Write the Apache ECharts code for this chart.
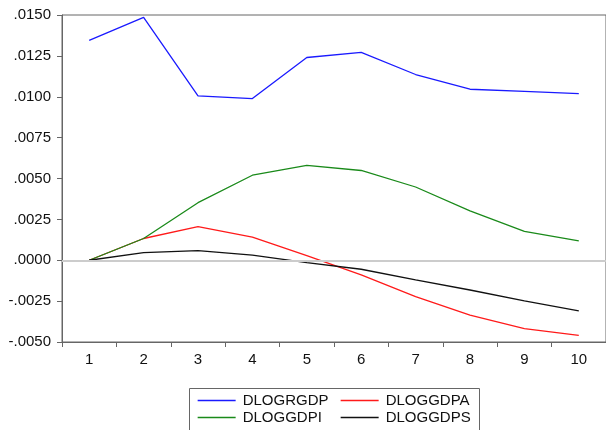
<!DOCTYPE html>
<html lang="en">
<head>
    <meta charset="UTF-8">
    <title>DLOG impulse responses</title>
    <script type="text/javascript" src="https://cdn.jsdelivr.net/npm/echarts@6/dist/echarts.min.js"></script>
</head>
<body style="margin:0;background:#fff;">
<div id="main" style="width: 606px;height:430px;"></div>
<script type="text/javascript">
    // periods
    var periods = ['1', '2', '3', '4', '5', '6', '7', '8', '9', '10'];
    // series values
    var dlogrgdp = [0.01345, 0.01486, 0.01005, 0.00989, 0.01240, 0.01272, 0.01136, 0.01046, 0.01033, 0.01019];
    var dloggdpa = [0.0000, 0.00133, 0.00206, 0.00142, 0.00028, -0.00090, -0.00222, -0.00336, -0.00418, -0.00459];
    var dloggdpi = [0.0000, 0.00133, 0.00352, 0.00520, 0.00580, 0.00549, 0.00448, 0.00302, 0.00177, 0.00118];
    var dloggdps = [0.0000, 0.00047, 0.00059, 0.00031, -0.00014, -0.00055, -0.00120, -0.00182, -0.00249, -0.00310];

    var fontFamily = 'Liberation Sans, Arial, sans-serif';
    var myChart = echarts.init(document.getElementById('main'));

    function lineSeries(name, data, color) {
        return {
            name: name,
            type: 'line',
            data: data,
            symbol: 'none',
            color: color,
            lineStyle: {color: color, width: 1.3},
            itemStyle: {color: color},
            z: 3
        };
    }

    var series = [
        lineSeries('DLOGRGDP', dlogrgdp, '#1a1aff'),
        lineSeries('DLOGGDPA', dloggdpa, '#ff1a1a'),
        lineSeries('DLOGGDPI', dloggdpi, '#1a8a1a'),
        lineSeries('DLOGGDPS', dloggdps, '#111111')
    ];
    // zero line
    series[0].markLine = {
        silent: true,
        symbol: 'none',
        label: {show: false},
        lineStyle: {color: '#cccccc', width: 2, type: 'solid'},
        data: [{yAxis: 0}]
    };

    var legendCommon = {
        orient: 'vertical',
        top: 393,
        padding: 0,
        itemWidth: 38,
        itemHeight: 17,
        itemGap: 2,
        itemStyle: {opacity: 0},
        lineStyle: {width: 1.3},
        textStyle: {fontFamily: fontFamily, fontSize: 15, color: '#111', padding: [0, 0, 0, 2]},
        selectedMode: false
    };

    var option = {
        animation: false,
        backgroundColor: '#ffffff',
        grid: {
            left: 62, right: -4, top: 15, bottom: 88,
            show: true, borderColor: '#666666', borderWidth: 1
        },
        legend: [
            Object.assign({}, legendCommon, {left: 197, data: ['DLOGRGDP', 'DLOGGDPI']}),
            Object.assign({}, legendCommon, {left: 340, data: ['DLOGGDPA', 'DLOGGDPS']})
        ],
        graphic: [{
            type: 'rect',
            shape: {x: 189.5, y: 388.5, width: 290, height: 60},
            style: {fill: 'none', stroke: '#666666', lineWidth: 1},
            silent: true
        }],
        xAxis: {
            type: 'category',
            data: periods,
            boundaryGap: true,
            axisLine: {onZero: false, lineStyle: {color: '#666666'}},
            axisTick: {show: true, length: 5, lineStyle: {color: '#666666'}},
            axisLabel: {fontFamily: fontFamily, fontSize: 15, color: '#111', margin: 10},
            splitLine: {show: false}
        },
        yAxis: {
            type: 'value',
            min: -0.005,
            max: 0.015,
            interval: 0.0025,
            axisLine: {show: true, lineStyle: {color: '#666666'}},
            axisTick: {show: true, length: 5, lineStyle: {color: '#666666'}},
            axisLabel: {
                fontFamily: fontFamily, fontSize: 15, color: '#111', margin: 11,
                formatter: function (v) {
                    var s = Math.abs(v).toFixed(4).replace(/^0/, '');
                    return (v < -1e-9 ? '-' : '') + s;
                }
            },
            splitLine: {show: false}
        },
        series: series
    };

    myChart.setOption(option);
</script>
</body>
</html>
